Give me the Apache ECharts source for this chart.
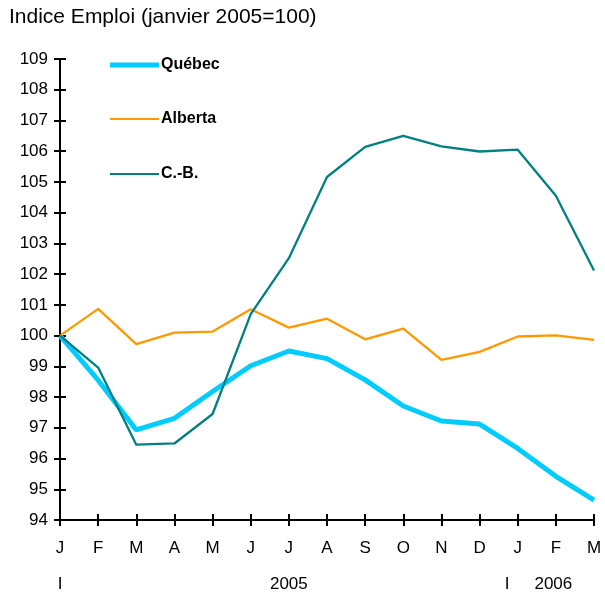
<!DOCTYPE html>
<html>
<head>
<meta charset="utf-8">
<script src="https://cdn.jsdelivr.net/npm/echarts@6/dist/echarts.min.js"></script>
<style>
html,body{margin:0;padding:0;background:#fff;}
#chart{width:605px;height:595px;}
</style>
</head>
<body>
<div id="chart"></div>
<script>
var months = ['J','F','M','A','M','J','J','A','S','O','N','D','J','F','M'];
var yearRow = ['I','','','','','','2005','','','','','','I','2006',''];
var quebec  = [100, 98.55, 96.93, 97.31, 98.18, 99.02, 99.50, 99.25, 98.56, 97.71, 97.22, 97.12, 96.33, 95.42, 94.65];
var alberta = [100, 100.87, 99.72, 100.10, 100.13, 100.86, 100.26, 100.55, 99.88, 100.23, 99.21, 99.47, 99.97, 100.01, 99.86];
var cb      = [100, 98.96, 96.45, 96.49, 97.45, 100.70, 102.52, 105.16, 106.14, 106.50, 106.16, 105.99, 106.05, 104.55, 102.12];
var yTicks = {min: 94, max: 109, step: 1};

var FONT = "'Liberation Sans', Arial, sans-serif";
var chart = echarts.init(document.getElementById('chart'), null, {renderer: 'canvas'});

function legendFor(name, top, h) {
  return {
    data: [name], left: 110, top: top, padding: 0, icon: 'rect',
    itemWidth: 49, itemHeight: h, selectedMode: false,
    textStyle: {fontFamily: FONT, fontSize: 16, fontWeight: 'bold', color: '#000', padding: [0,0,0,-3]}
  };
}

var option = {
  backgroundColor: '#fff',
  animation: false,
  title: {
    text: 'Indice Emploi (janvier 2005=100)', left: 9, top: 7, padding: 0,
    textStyle: {fontFamily: FONT, fontSize: 21, fontWeight: 'normal', color: '#000'}
  },
  legend: [
    legendFor('Québec', 57, 5),
    legendFor('Alberta', 111, 2),
    legendFor('C.-B.', 166, 2)
  ],
  grid: {left: 60, right: 11, top: 59, bottom: 75, containLabel: false},
  xAxis: [
    {
      type: 'category', data: months, boundaryGap: false,
      axisLine: {lineStyle: {color: '#000', width: 2}},
      axisTick: {show: true, inside: false, length: 6, lineStyle: {color: '#000', width: 2}, interval: 0},
      axisLabel: {interval: 0, margin: 20, color: '#000', fontFamily: FONT, fontSize: 17},
      splitLine: {show: false}
    },
    {
      type: 'category', data: months, boundaryGap: false, position: 'bottom', offset: 0,
      axisLine: {show: false},
      axisTick: {show: true, inside: true, length: 6, lineStyle: {color: '#000', width: 2}, interval: 0},
      axisLabel: {
        interval: 0, margin: 56, color: '#000', fontFamily: FONT, fontSize: 17,
        formatter: function (v, i) {
          var t = yearRow[i];
          if (!t) return '';
          if (t === 'I' && i > 0) return '{s|I}';
          if (t === '2006') return '{y|2006}';
          return t;
        },
        rich: {
          s: {fontFamily: FONT, fontSize: 17, color: '#000', padding: [0, 21, 0, 0]},
          y: {fontFamily: FONT, fontSize: 17, color: '#000', padding: [0, 5, 0, 0]}
        }
      },
      splitLine: {show: false}
    }
  ],
  yAxis: [
    {
      type: 'value', min: yTicks.min, max: yTicks.max, interval: yTicks.step,
      axisLine: {show: true, lineStyle: {color: '#000', width: 2}},
      axisTick: {show: true, inside: false, length: 6, lineStyle: {color: '#000', width: 2}},
      axisLabel: {margin: 12, color: '#000', fontFamily: FONT, fontSize: 17},
      splitLine: {show: false}
    },
    {
      type: 'value', min: yTicks.min, max: yTicks.max, interval: yTicks.step, position: 'left', offset: 0,
      axisLine: {show: false},
      axisTick: {show: true, inside: true, length: 6, lineStyle: {color: '#000', width: 2}},
      axisLabel: {show: false},
      splitLine: {show: false}
    }
  ],
  series: [
    {name: 'Québec', type: 'line', data: quebec, symbol: 'none', color: '#00CCFF',
     lineStyle: {width: 5, color: '#00CCFF'}, z: 2},
    {name: 'Alberta', type: 'line', data: alberta, symbol: 'none', color: '#FF9900',
     lineStyle: {width: 2.3, color: '#FF9900'}, z: 3},
    {name: 'C.-B.', type: 'line', data: cb, symbol: 'none', color: '#008080',
     lineStyle: {width: 2.3, color: '#008080'}, z: 4}
  ]
};
chart.setOption(option);
</script>
</body>
</html>
